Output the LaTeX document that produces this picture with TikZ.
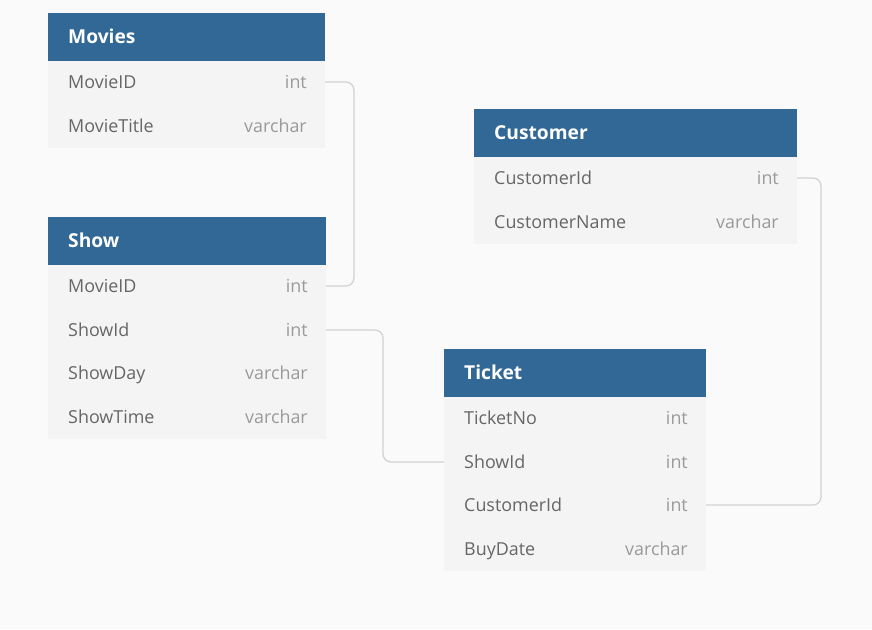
\documentclass[tikz,border=0pt]{standalone}
\usepackage{fontspec}
\setmainfont{Open Sans}
\definecolor{pagebg}{HTML}{FAFAFA}
\definecolor{hdrblue}{HTML}{326896}
\definecolor{rowbg}{HTML}{F4F4F4}
\definecolor{fieldgray}{HTML}{666666}
\definecolor{typegray}{HTML}{9A9A9A}
\definecolor{linkgray}{HTML}{D2D2D2}
\tikzset{
  tname/.style={anchor=base west,inner sep=0,text=white,font=\bfseries\fontsize{19.2}{22}\selectfont},
  fname/.style={anchor=base west,inner sep=0,text=fieldgray,font=\fontsize{17.9}{21}\selectfont},
  ftype/.style={anchor=base east,inner sep=0,text=typegray,font=\fontsize{17.9}{21}\selectfont},
  link/.style={draw=linkgray,line width=1.3pt,rounded corners=8pt}
}
\begin{document}
\begin{tikzpicture}[x=1pt,y=-1pt]
\path [fill=pagebg] (0,0) rectangle (872,629);
% Movies
\path [fill=hdrblue] (48,13) rectangle (325,61);
\path [fill=rowbg] (48,61) rectangle (325,148);
\node [tname] (movies) at (68,43.5) {Movies};
\node [fname] (moviesMovieID) at (68,88.5) {MovieID};
\node [ftype] (moviesMovieIDtype) at (307,88.5) {int};
\node [fname] (moviesMovieTitle) at (68,132.5) {MovieTitle};
\node [ftype] (moviesMovieTitletype) at (307,132.5) {varchar};
\coordinate (moviesMovieIDend) at (325,82);
% Show
\path [fill=hdrblue] (48,217) rectangle (326,265);
\path [fill=rowbg] (48,265) rectangle (326,439);
\node [tname] (show) at (68,247.5) {Show};
\node [fname] (showMovieID) at (68,292.5) {MovieID};
\node [ftype] (showMovieIDtype) at (308,292.5) {int};
\node [fname] (showShowId) at (68,336.5) {ShowId};
\node [ftype] (showShowIdtype) at (308,336.5) {int};
\node [fname] (showShowDay) at (68,379.5) {ShowDay};
\node [ftype] (showShowDaytype) at (308,379.5) {varchar};
\node [fname] (showShowTime) at (68,423.5) {ShowTime};
\node [ftype] (showShowTimetype) at (308,423.5) {varchar};
\coordinate (showMovieIDend) at (326,286);
\coordinate (showShowIdend) at (326,330);
% Customer
\path [fill=hdrblue] (474,109) rectangle (797,157);
\path [fill=rowbg] (474,157) rectangle (797,244);
\node [tname] (customer) at (494,139.5) {Customer};
\node [fname] (customerCustomerId) at (494,184.5) {CustomerId};
\node [ftype] (customerCustomerIdtype) at (779,184.5) {int};
\node [fname] (customerCustomerName) at (494,228.5) {CustomerName};
\node [ftype] (customerCustomerNametype) at (779,228.5) {varchar};
\coordinate (customerCustomerIdend) at (797,178);
% Ticket
\path [fill=hdrblue] (444,349) rectangle (706,397);
\path [fill=rowbg] (444,397) rectangle (706,571);
\node [tname] (ticket) at (464,379.5) {Ticket};
\node [fname] (ticketTicketNo) at (464,424.5) {TicketNo};
\node [ftype] (ticketTicketNotype) at (688,424.5) {int};
\node [fname] (ticketShowId) at (464,468.5) {ShowId};
\node [ftype] (ticketShowIdtype) at (688,468.5) {int};
\node [fname] (ticketCustomerId) at (464,511.5) {CustomerId};
\node [ftype] (ticketCustomerIdtype) at (688,511.5) {int};
\node [fname] (ticketBuyDate) at (464,555.5) {BuyDate};
\node [ftype] (ticketBuyDatetype) at (688,555.5) {varchar};
\coordinate (ticketShowIdend) at (444,462);
\coordinate (ticketCustomerIdend) at (706,505);
% links
\draw [link] (moviesMovieIDend) -- ++(29,0) |- (showMovieIDend);
\draw [link] (showShowIdend) -- ++(57,0) |- (ticketShowIdend);
\draw [link] (customerCustomerIdend) -- ++(24,0) |- (ticketCustomerIdend);
\end{tikzpicture}
\end{document}
